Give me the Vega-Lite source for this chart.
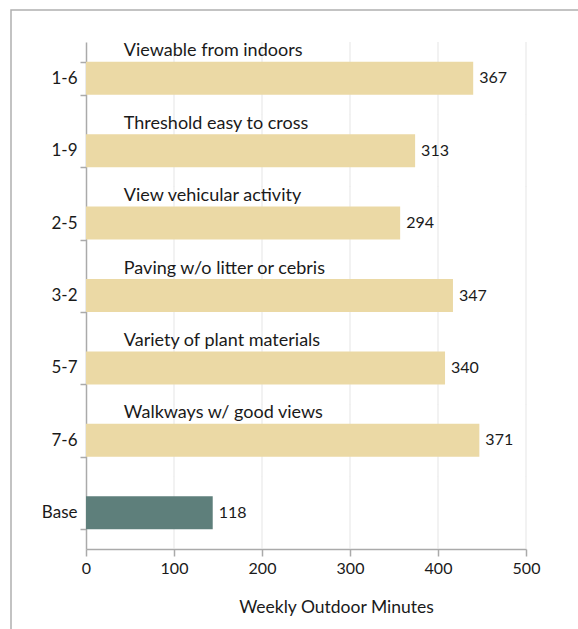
{
  "$schema": "https://vega.github.io/schema/vega-lite/v6.json",
  "width": 572,
  "height": 624,
  "padding": {"left": 11, "top": 10, "right": -5, "bottom": -5},
  "autosize": {"type": "none"},
  "background": "white",
  "config": {
    "font": "Lato",
    "view": {"stroke": "#b0b0b0", "strokeWidth": 1.5},
    "text": {"font": "Lato", "fontSize": 16, "color": "#1a1a1a"}
  },
  "data": {
    "values": [
      {"code": "1-6", "desc": "Viewable from indoors", "minutes": 440, "label": 367, "group": "Attribute"},
      {"code": "1-9", "desc": "Threshold easy to cross", "minutes": 374, "label": 313, "group": "Attribute"},
      {"code": "2-5", "desc": "View vehicular activity", "minutes": 357, "label": 294, "group": "Attribute"},
      {"code": "3-2", "desc": "Paving w/o litter or cebris", "minutes": 417, "label": 347, "group": "Attribute"},
      {"code": "5-7", "desc": "Variety of plant materials", "minutes": 408, "label": 340, "group": "Attribute"},
      {"code": "7-6", "desc": "Walkways w/ good views", "minutes": 447, "label": 371, "group": "Attribute"},
      {"code": "Base", "desc": "", "minutes": 144, "label": 118, "group": "Base"}
    ]
  },
  "encoding": {
    "y": {
      "field": "code",
      "type": "nominal",
      "sort": null,
      "scale": {"range": [32, 539], "paddingInner": 0.544, "paddingOuter": 0.272},
      "axis": {
        "title": null,
        "offset": -75,
        "tickBand": "extent",
        "grid": false,
        "domainColor": "#aaaaaa",
        "domainWidth": 1.5,
        "tickColor": "#aaaaaa",
        "tickWidth": 1.5,
        "tickSize": 6,
        "labelFont": "Lato",
        "labelFontSize": 17,
        "labelColor": "#1a1a1a",
        "labelPadding": 3
      }
    }
  },
  "layer": [
    {"mark": {"type": "tick", "color": "#e0e0e0", "thickness": 1.2, "size": 72.6, "orient": "vertical"}, "encoding": {"x": {"datum": 100, "type": "quantitative"}}},
    {"mark": {"type": "tick", "color": "#e0e0e0", "thickness": 1.2, "size": 72.6, "orient": "vertical"}, "encoding": {"x": {"datum": 200, "type": "quantitative"}}},
    {"mark": {"type": "tick", "color": "#e0e0e0", "thickness": 1.2, "size": 72.6, "orient": "vertical"}, "encoding": {"x": {"datum": 300, "type": "quantitative"}}},
    {"mark": {"type": "tick", "color": "#e0e0e0", "thickness": 1.2, "size": 72.6, "orient": "vertical"}, "encoding": {"x": {"datum": 400, "type": "quantitative"}}},
    {"mark": {"type": "tick", "color": "#e0e0e0", "thickness": 1.2, "size": 72.6, "orient": "vertical"}, "encoding": {"x": {"datum": 500, "type": "quantitative"}}},
    {
      "mark": {"type": "bar"},
      "encoding": {
        "x": {
          "field": "minutes",
          "type": "quantitative",
          "scale": {"domain": [0, 500], "range": [75, 515], "nice": false},
          "axis": {
            "values": [0, 100, 200, 300, 400, 500],
            "offset": -85,
            "grid": false,
            "domainColor": "#aaaaaa",
            "domainWidth": 1.5,
            "tickColor": "#aaaaaa",
            "tickWidth": 1.5,
            "tickSize": 7,
            "labelFont": "Lato",
            "labelFontSize": 16,
            "labelColor": "#1a1a1a",
            "labelPadding": 4,
            "labelFlush": false,
            "title": "Weekly Outdoor Minutes",
            "titleFont": "Lato",
            "titleFontSize": 17.5,
            "titleFontWeight": "normal",
            "titleColor": "#1a1a1a",
            "titleX": 325,
            "titleY": 58,
            "titleAlign": "center",
            "titleBaseline": "middle"
          }
        },
        "color": {
          "field": "group",
          "type": "nominal",
          "scale": {"domain": ["Attribute", "Base"], "range": ["#ebd9a5", "#5e7f7b"]},
          "legend": null
        }
      }
    },
    {
      "mark": {"type": "text", "align": "left", "baseline": "middle", "dx": 6, "fontSize": 16},
      "encoding": {
        "x": {"field": "minutes", "type": "quantitative"},
        "text": {"field": "label"}
      }
    },
    {
      "mark": {"type": "text", "align": "left", "baseline": "middle", "dy": -27, "fontSize": 18},
      "encoding": {
        "x": {"datum": 43},
        "text": {"field": "desc"}
      }
    }
  ]
}
